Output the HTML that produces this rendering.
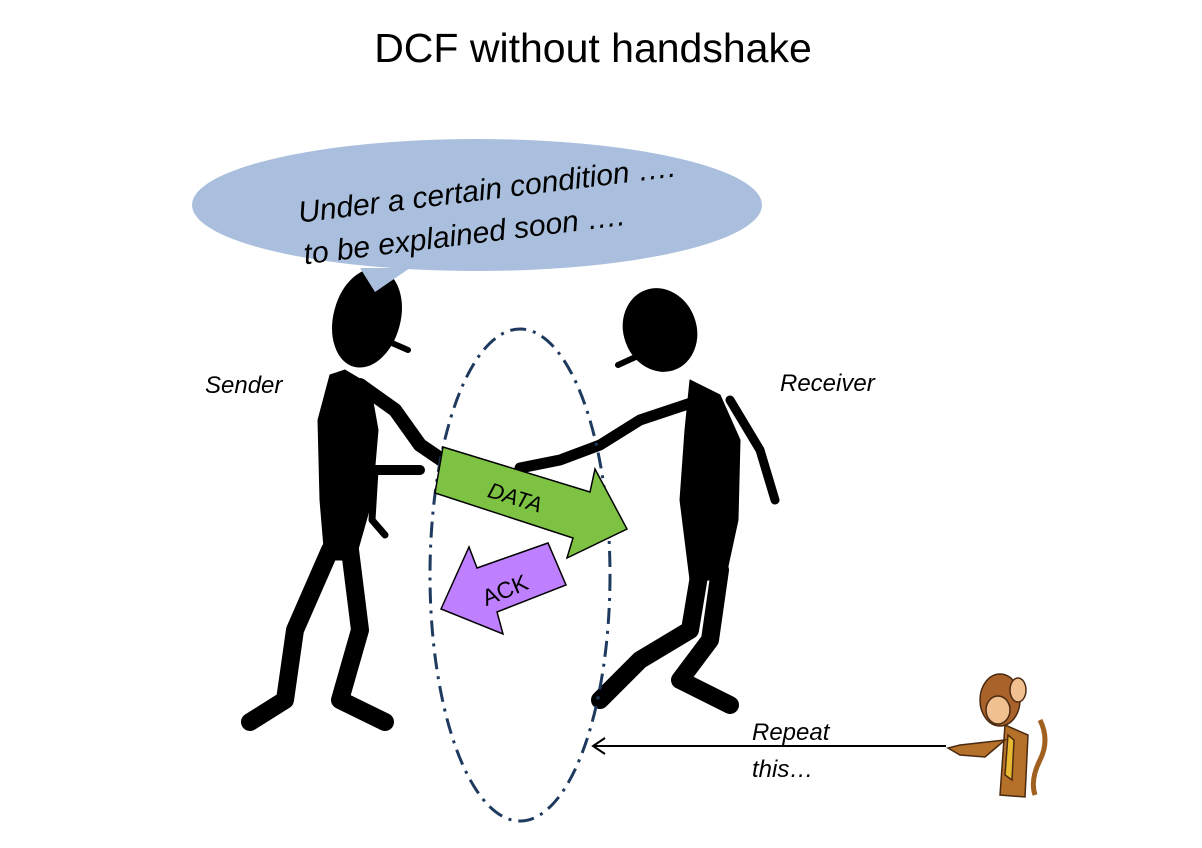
<!DOCTYPE html>
<html><head><meta charset="utf-8"><style>
html,body{margin:0;padding:0;background:#fff;}
svg{display:block;}
text{font-family:"Liberation Sans",sans-serif;}
</style></head><body>
<svg width="1202" height="848" viewBox="0 0 1202 848" xmlns="http://www.w3.org/2000/svg">
<text x="593" y="62" font-size="41" text-anchor="middle" fill="#000">DCF without handshake</text>

<!-- Sender silhouette -->
<g fill="#000" stroke="#000" stroke-linecap="round" stroke-linejoin="round">
<ellipse cx="367" cy="318" rx="33" ry="50" transform="rotate(15 367 318)"/>
<path d="M385 340 L408 350" stroke-width="6" fill="none"/>
<path d="M345 370 L330 375 L318 420 L320 500 L325 560 L355 560 L372 500 L378 430 L370 385 Z"/>
<path d="M360 385 L395 410 L420 445 L445 462" stroke-width="14" fill="none"/>
<path d="M335 420 L360 470 L390 470 L420 470" stroke-width="10" fill="none"/>
<path d="M375 470 L372 520 L385 535" stroke-width="7" fill="none"/>
<path d="M330 550 L295 630 L285 700 L250 722" stroke-width="18" fill="none"/>
<path d="M350 550 L360 630 L340 700 L385 722" stroke-width="18" fill="none"/>
</g>

<!-- Receiver silhouette -->
<g fill="#000" stroke="#000" stroke-linecap="round" stroke-linejoin="round">
<ellipse cx="660" cy="330" rx="36" ry="42" transform="rotate(-20 660 330)"/>
<path d="M640 355 L618 365" stroke-width="6" fill="none"/>
<path d="M690 380 L720 395 L740 440 L738 520 L725 580 L690 580 L680 500 L685 430 Z"/>
<path d="M700 400 L640 420 L600 445 L560 460 L520 468" stroke-width="11" fill="none"/>
<path d="M730 400 L760 450 L775 500" stroke-width="9" fill="none"/>
<path d="M700 570 L690 630 L640 660 L600 700" stroke-width="18" fill="none"/>
<path d="M720 570 L710 640 L680 680 L730 705" stroke-width="18" fill="none"/>
</g>

<!-- Speech bubble -->
<path d="M360 268 L375 292 L410 268 Z" fill="#a9bfdd"/>
<ellipse cx="477" cy="205" rx="285" ry="66" fill="#a9bfdd"/>
<g transform="rotate(-7 485 215)">
<text x="490" y="200" font-size="30" font-style="italic" text-anchor="middle">Under a certain condition ….</text>
<text x="462" y="242" font-size="30" font-style="italic" text-anchor="middle">to be explained soon ….</text>
</g>

<text x="205" y="393" font-size="24" font-style="italic">Sender</text>
<text x="780" y="391" font-size="24" font-style="italic">Receiver</text>

<!-- Dashed ellipse -->
<ellipse cx="520" cy="575" rx="90" ry="246" fill="none" stroke="#1f3a5f" stroke-width="3" stroke-dasharray="16 7 3 7"/>

<!-- DATA arrow -->
<polygon points="443,447 590,492 595,469 627,529 567,558 573,538 435,493" fill="#7dc242" stroke="#000" stroke-width="1.5"/>
<text x="515" y="505" font-size="22" font-style="italic" text-anchor="middle" transform="rotate(17 515 498)">DATA</text>

<!-- ACK arrow -->
<polygon points="441,609 469,547 477,568 548,543 566,585 497,612 503,634" fill="#bf80ff" stroke="#000" stroke-width="1.5"/>
<text x="505" y="598" font-size="23" text-anchor="middle" transform="rotate(-22 505 590)">ACK</text>

<!-- Repeat arrow -->
<line x1="946" y1="746" x2="593" y2="746" stroke="#000" stroke-width="2"/>
<polyline points="605,738 593,746 605,754" fill="none" stroke="#000" stroke-width="2"/>
<text x="752" y="740" font-size="24" font-style="italic">Repeat</text>
<text x="752" y="777" font-size="24" font-style="italic">this…</text>

<!-- Monkey -->
<g stroke="#4a2a10" stroke-width="1.5">
<path d="M1040 720 Q1050 740 1040 760 Q1030 780 1035 795" fill="none" stroke="#a0601f" stroke-width="5"/>
<path d="M1005 725 L1000 795 L1025 797 L1028 735 Z" fill="#b5702a"/>
<path d="M1008 735 L1005 775 L1012 780 L1014 740 Z" fill="#e8b830"/>
<ellipse cx="1000" cy="700" rx="20" ry="26" fill="#a8622a"/>
<ellipse cx="1018" cy="690" rx="8" ry="12" fill="#f0c090"/>
<ellipse cx="998" cy="710" rx="12" ry="14" fill="#f0c090"/>
<path d="M1005 740 L960 745 L948 748 L960 755 L985 757 Z" fill="#b5702a"/>
</g>
</svg>
</body></html>
